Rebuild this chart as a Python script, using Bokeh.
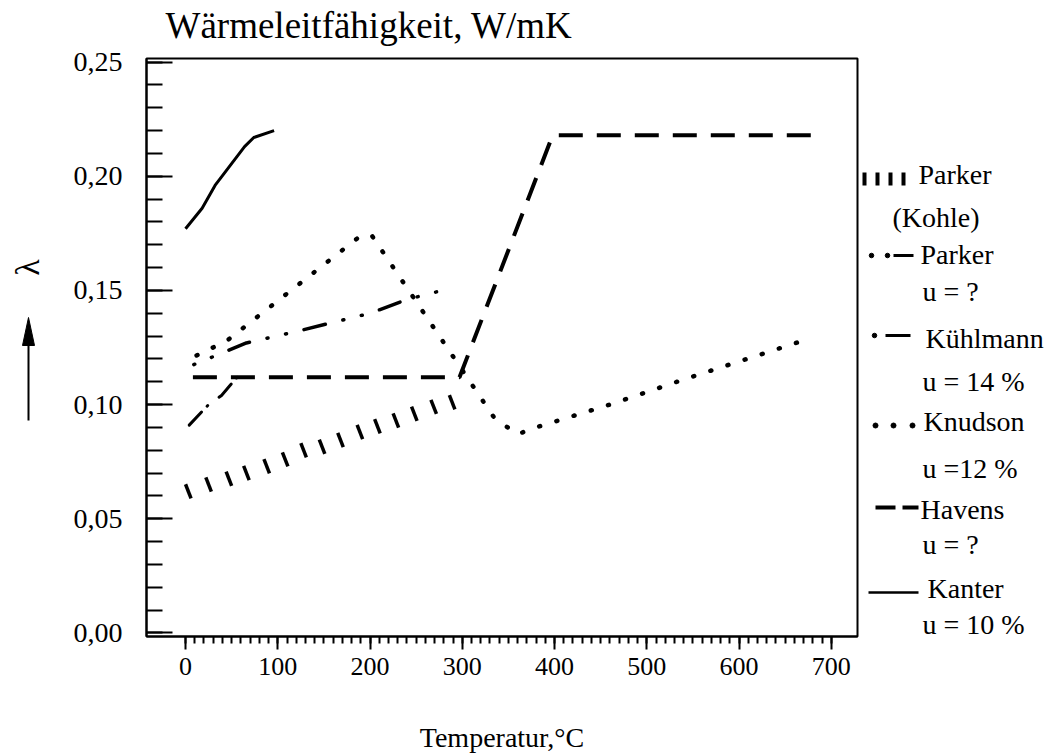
import math

from bokeh.core.properties import value
from bokeh.embed import file_html
from bokeh.layouts import column, row
from bokeh.models import CustomJSTickFormatter, FixedTicker, Range1d
from bokeh.plotting import figure
from bokeh.resources import INLINE

# ---------------------------------------------------------------------------
# Wärmeleitfähigkeit (W/mK) gegen Temperatur (°C)
# ---------------------------------------------------------------------------

# Parker (Kohle)
parker_kohle_t = [3, 25, 47, 66, 88, 108, 128, 148, 168, 189, 208, 228, 248, 269, 289]
parker_kohle_k = [0.062, 0.065, 0.0675, 0.070, 0.073, 0.076, 0.080, 0.0815,
                  0.0845, 0.088, 0.0905, 0.093, 0.096, 0.099, 0.101]

# Parker, u = ?
parker_t = [9, 66, 120, 200, 240, 278]
parker_k = [0.1175, 0.127, 0.132, 0.140, 0.146, 0.150]

# Kühlmann, u = 14 %
kuehlmann_t = [4, 25, 39, 56]
kuehlmann_k = [0.091, 0.100, 0.104, 0.112]

# Knudson, u = 12 %
knudson_t = [12, 45, 190, 202, 335, 360, 380, 460, 540, 620, 677]
knudson_k = [0.1215, 0.128, 0.174, 0.174, 0.094, 0.087, 0.090, 0.100, 0.111, 0.1215, 0.129]

# Havens, u = ?
havens_t = [8, 297, 398, 680]
havens_k = [0.112, 0.112, 0.218, 0.218]

# Kanter, u = 10 %
kanter_t = [0, 18, 32, 64, 74, 96]
kanter_k = [0.177, 0.186, 0.196, 0.213, 0.217, 0.220]

x_ticks = [0, 100, 200, 300, 400, 500, 600, 700]
y_ticks = [0.0, 0.05, 0.10, 0.15, 0.20, 0.25]

title_text = "Wärmeleitfähigkeit, W/mK"
x_label_text = "Temperatur,°C"
y_symbol_text = "λ"
legend_texts = ["Parker", "(Kohle)", "Parker", "u = ?", "Kühlmann", "u = 14 %",
                "Knudson", "u =12 %", "Havens", "u = ?", "Kanter", "u = 10 %"]

FONT = "Liberation Serif"
PAGE_W, PAGE_H = 1049, 755
TOP_H = 46                      # strip carrying the heading
LEFT_W, MAIN_W, RIGHT_W = 60, 800, 189
FRAME_TOP, FRAME_BOTTOM = 58, 636   # plot frame, in page pixels
BODY_H = PAGE_H - TOP_H
BASELINE_SHIFT = 0.32           # text glyph baseline correction, in em

# ----------------------------------------------------------------- main plot
p = figure(
    width=MAIN_W, height=BODY_H,
    x_range=Range1d(-42.3, 728.4), y_range=Range1d(-0.0016, 0.2516),
    output_backend="svg", toolbar_location=None,
    min_border_left=86, min_border_right=3,
    min_border_top=FRAME_TOP - TOP_H, min_border_bottom=PAGE_H - FRAME_BOTTOM,
)
p.grid.visible = False
p.background_fill_color = "white"
p.border_fill_color = "white"
p.outline_line_color = "black"
p.outline_line_width = 2

# x axis: ticks pointing outward below the frame
xa = p.xaxis[0]
xa.ticker = FixedTicker(ticks=x_ticks, minor_ticks=list(range(0, 701, 10)))
xa.major_tick_in, xa.major_tick_out = 0, 13
xa.minor_tick_in, xa.minor_tick_out = 0, 7
xa.major_tick_line_width = 2
xa.minor_tick_line_width = 2
xa.axis_line_width = 2
xa.major_label_text_font = FONT
xa.major_label_text_font_size = "26px"
xa.major_label_text_line_height = 1.0
xa.major_label_text_color = "black"
xa.major_label_standoff = 8
xa.axis_label = x_label_text
xa.axis_label_text_font = FONT
xa.axis_label_text_font_size = "28px"
xa.axis_label_text_line_height = 1.0
xa.axis_label_text_font_style = "normal"
xa.axis_label_text_color = "black"
xa.axis_label_standoff = 44

# y axis: ticks pointing into the frame, decimal comma
ya = p.yaxis[0]
ya.ticker = FixedTicker(ticks=y_ticks, minor_ticks=[i / 100 for i in range(26)])
ya.major_tick_in, ya.major_tick_out = 26, 0
ya.minor_tick_in, ya.minor_tick_out = 16, 0
ya.major_tick_line_width = 2
ya.minor_tick_line_width = 2
ya.axis_line_width = 2
ya.formatter = CustomJSTickFormatter(code="return tick.toFixed(2).replace('.', ',')")
ya.major_label_text_font = FONT
ya.major_label_text_font_size = "28px"
ya.major_label_text_color = "black"
ya.major_label_standoff = 24

# Parker (Kohle): short strokes leaning back, centred on each value
stroke_dt, stroke_dk = 3.0, 0.0031
p.segment(x0=[t - stroke_dt for t in parker_kohle_t], y0=[k + stroke_dk for k in parker_kohle_k],
          x1=[t + stroke_dt for t in parker_kohle_t], y1=[k - stroke_dk for k in parker_kohle_k],
          line_color="black", line_width=3.5)
p.line(parker_t, parker_k, line_color="black", line_width=3.5,
       line_dash="1 18 1 18 22 18", line_cap="round")
p.line(kuehlmann_t, kuehlmann_k, line_color="black", line_width=3,
       line_dash="18 8 1 14", line_cap="round")
p.line(knudson_t, knudson_k, line_color="black", line_width=4.5,
       line_dash="1 17", line_cap="round")
p.line(havens_t, havens_k, line_color="black", line_width=4, line_dash="24 14")
p.line(kanter_t, kanter_k, line_color="black", line_width=3)


def bare_panel(width, height, x0, y_top, y_bottom):
    """A drawing area without axes; its coordinates are page pixels (y downwards)."""
    f = figure(width=width, height=height, x_range=Range1d(x0, x0 + width),
               y_range=Range1d(y_bottom, y_top),
               output_backend="svg", toolbar_location=None,
               x_axis_location=None, y_axis_location=None, min_border=0)
    f.grid.visible = False
    f.outline_line_color = None
    f.background_fill_color = "white"
    f.border_fill_color = "white"
    return f


def put_text(f, xs, baselines, texts, size):
    shift = BASELINE_SHIFT * size
    f.text(x=xs, y=[b - shift for b in baselines], text=texts,
           text_font=value(FONT), text_font_size=f"{size}px", text_color="black",
           text_align="left", text_baseline="alphabetic")


# ------------------------------------------------------------------- heading
top = bare_panel(PAGE_W, TOP_H, 0, 0, TOP_H)
put_text(top, [165], [37], [title_text], 37)

# ------------------------------------------------- quantity symbol and arrow
# (side panels line up with the plot frame)
left = bare_panel(LEFT_W, BODY_H, 0, FRAME_TOP, FRAME_BOTTOM)
left.text(x=[27], y=[267], text=[y_symbol_text], angle=math.pi / 2,
          text_font=value(FONT), text_font_size="34px", text_color="black",
          text_align="center", text_baseline="middle")
left.segment(x0=[28], y0=[420], x1=[28], y1=[338], line_color="black", line_width=2)
left.patch(x=[22, 28, 34], y=[345, 317, 345], fill_color="black", line_color="black")

# ------------------------------------------------------------------- key
right = bare_panel(RIGHT_W, BODY_H, 860, FRAME_TOP, FRAME_BOTTOM)
put_text(right,
         [918, 892, 920, 922, 925, 922, 923, 922, 920, 922, 927, 922],
         [183, 226, 263, 300, 347, 390, 430, 477, 518, 553, 597, 633],
         legend_texts, 28)
# Parker (Kohle): short strokes
right.segment(x0=[864, 877, 890, 903], y0=[185] * 4, x1=[864, 877, 890, 903], y1=[172] * 4,
              line_color="black", line_width=4)
# Parker: dot dot dash
right.scatter(x=[871, 887], y=[255, 255], marker="circle", size=4.5,
              fill_color="black", line_color="black")
right.segment(x0=[893], y0=[255], x1=[913], y1=[255], line_color="black", line_width=3)
# Kühlmann: dot dash
right.scatter(x=[874], y=[335], marker="circle", size=4.5, fill_color="black", line_color="black")
right.segment(x0=[885], y0=[335], x1=[910], y1=[335], line_color="black", line_width=3)
# Knudson: dots
right.scatter(x=[875, 893, 912], y=[425, 425, 425], marker="circle", size=5,
              fill_color="black", line_color="black")
# Havens: dashes
right.segment(x0=[875, 902], y0=[507, 507], x1=[895, 918], y1=[507, 507],
              line_color="black", line_width=4)
# Kanter: solid
right.segment(x0=[868], y0=[592], x1=[918], y1=[592], line_color="black", line_width=2.5)

layout = column(top, row(left, p, right, spacing=0), spacing=0)
open("out.html", "w").write(file_html(layout, INLINE))
